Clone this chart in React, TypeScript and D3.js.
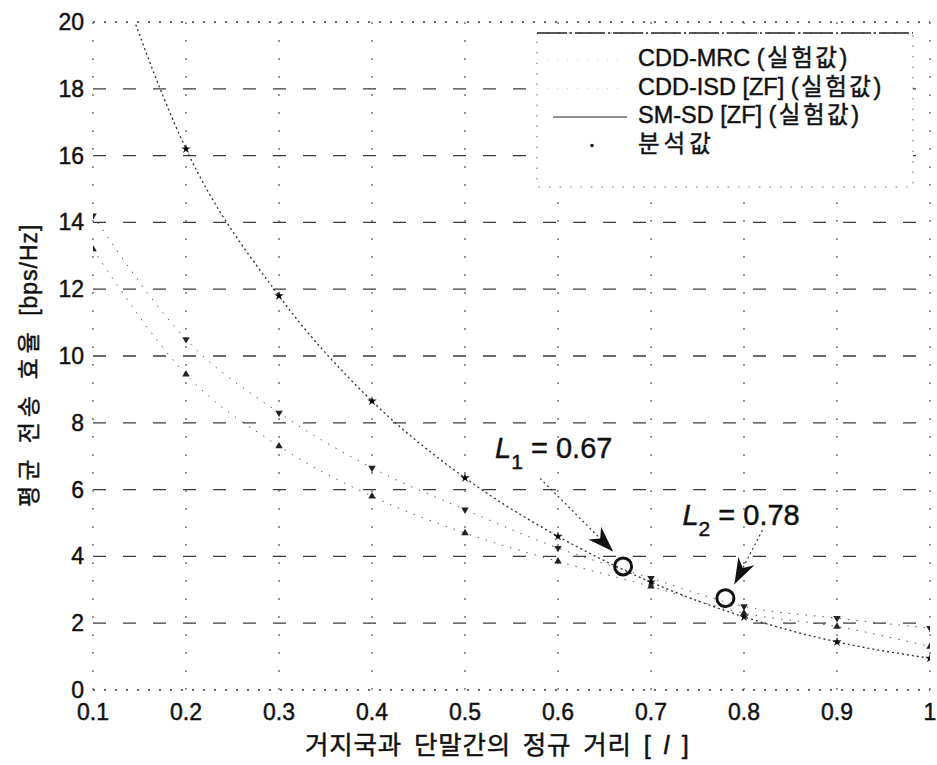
import React from "react";
import * as d3 from "d3";

// normalised distance between base station and terminal
const distances = [0.1, 0.2, 0.3, 0.4, 0.5, 0.6, 0.7, 0.8, 0.9, 1.0];
// average spectral efficiency [bps/Hz]
const smSdRate = [23.6, 16.2, 11.8, 8.65, 6.35, 4.6, 3.23, 2.19, 1.44, 0.95];
const cddIsdRate = [14.2, 10.5, 8.3, 6.65, 5.4, 4.25, 3.35, 2.5, 2.15, 1.85];
const cddMrcRate = [13.2, 9.45, 7.3, 5.8, 4.7, 3.85, 3.1, 2.3, 1.9, 1.3];

const yTicks = [0, 2, 4, 6, 8, 10, 12, 14, 16, 18, 20];
const xTicks = [0.1, 0.2, 0.3, 0.4, 0.5, 0.6, 0.7, 0.8, 0.9, 1.0];
const xTickLabels = ["0.1", "0.2", "0.3", "0.4", "0.5", "0.6", "0.7", "0.8", "0.9", "1"];

const legendNames = ["CDD-MRC", "CDD-ISD [ZF]", "SM-SD [ZF]", ""];
const legendKinds = ["(실험값)", "(실험값)", "(실험값)", "분석값"];

const switchIndex = ["1", "2"];
const switchDistance = [0.67, 0.78];
const switchRate = [3.7, 2.75];

const W = 937;
const H = 765;
const margin = { top: 22, right: 7, bottom: 75, left: 93 };
const latin = "'Liberation Sans', Arial, 'Noto Sans CJK KR', sans-serif";

export default function App() {
  const x = d3.scaleLinear().domain([0.1, 1]).range([margin.left, W - margin.right]);
  const y = d3.scaleLinear().domain([0, 20]).range([H - margin.bottom, margin.top]);

  const line = (vals: number[]) =>
    d3
      .line<number>()
      .x((_, i) => x(distances[i]))
      .y((d) => y(d))
      .curve(d3.curveMonotoneX)(vals) || "";

  const star = d3.symbol().type(d3.symbolStar).size(28)() || "";
  const tri = d3.symbol().type(d3.symbolTriangle).size(24)() || "";
  const dot = d3.symbol().type(d3.symbolCircle).size(10)() || "";

  const arrowHead = (x0: number, y0: number, x1: number, y1: number) => {
    const ang = Math.atan2(y1 - y0, x1 - x0);
    const len = 26;
    const wid = 9;
    const bx = x1 - len * Math.cos(ang);
    const by = y1 - len * Math.sin(ang);
    const nx = -Math.sin(ang) * wid;
    const ny = Math.cos(ang) * wid;
    const mx = x1 - len * 0.7 * Math.cos(ang);
    const my = y1 - len * 0.7 * Math.sin(ang);
    return `M${x1},${y1}L${bx + nx},${by + ny}L${mx},${my}L${bx - nx},${by - ny}Z`;
  };

  // label offsets relative to the marked points
  const labelOffsets = [
    { tx: -128, ty: -108, sx: -83, sy: -88, ex: -10, ey: -15 },
    { tx: -43, ty: -73, sx: 37, sy: -68, ex: 9, ey: -14 },
  ];

  const legendX = 537;
  const legendY = 33;
  const ink = { fill: "#111", stroke: "#111", strokeWidth: 0.45 };

  return (
    <div style={{ position: "absolute", left: 0, top: 0 }}>
      <svg width={W} height={H} style={{ display: "block", background: "#fff" }}>
        <defs>
          <clipPath id="plot">
            <rect x={margin.left} y={margin.top} width={W - margin.left - margin.right} height={H - margin.top - margin.bottom} />
          </clipPath>
        </defs>

        {/* grid */}
        {yTicks.map((t) => (
          <line key={"gy" + t} x1={margin.left} x2={W - margin.right} y1={y(t)} y2={y(t)}
            stroke="#3a3a3a" strokeWidth={1.3} strokeDasharray={t === 0 || t === 20 ? "2 9" : "13 17"} />
        ))}
        {xTicks.map((t) => (
          <line key={"gx" + t} x1={x(t)} x2={x(t)} y1={margin.top} y2={H - margin.bottom}
            stroke="#555" strokeWidth={1.2} strokeDasharray="2 16" />
        ))}

        {/* series */}
        <g clipPath="url(#plot)">
          <path d={line(cddMrcRate)} fill="none" stroke="#555" strokeWidth={1} strokeDasharray="1.5 7" />
          <path d={line(cddIsdRate)} fill="none" stroke="#555" strokeWidth={1} strokeDasharray="1.5 7" />
          <path d={line(smSdRate)} fill="none" stroke="#2a2a2a" strokeWidth={1.3} strokeDasharray="2 3" />
          {cddMrcRate.map((v, i) => (
            <path key={"m" + i} d={tri} transform={`translate(${x(distances[i])},${y(v)}) rotate(120)`} fill="#222" />
          ))}
          {cddIsdRate.map((v, i) => (
            <path key={"s" + i} d={tri} transform={`translate(${x(distances[i])},${y(v)}) rotate(60)`} fill="#222" />
          ))}
          {smSdRate.map((v, i) => (
            <path key={"a" + i} d={star} transform={`translate(${x(distances[i])},${y(v)})`} fill="#222" />
          ))}
          {smSdRate.map((v, i) => (
            <path key={"d" + i} d={dot} transform={`translate(${x(distances[i])},${y(v)})`} fill="#000" />
          ))}
        </g>

        {/* marked switching points */}
        {switchDistance.map((d, i) => {
          const cx = x(d);
          const cy = y(switchRate[i]);
          const o = labelOffsets[i];
          return (
            <g key={"sw" + i}>
              <circle cx={cx} cy={cy} r={8.5} fill="none" stroke="#111" strokeWidth={3} />
              <line x1={cx + o.sx} y1={cy + o.sy} x2={cx + o.ex} y2={cy + o.ey} stroke="#333" strokeWidth={1.2} strokeDasharray="2 3" />
              <path d={arrowHead(cx + o.sx, cy + o.sy, cx + o.ex, cy + o.ey)} fill="#111" />
              <text x={cx + o.tx} y={cy + o.ty} fontFamily={latin} fontSize={29} {...ink}>
                <tspan fontStyle="italic">L</tspan>
                <tspan fontSize={21} dy={11}>{switchIndex[i]}</tspan>
                <tspan dy={-11}>{" = " + switchDistance[i].toFixed(2)}</tspan>
              </text>
            </g>
          );
        })}

        {/* legend */}
        <rect x={legendX} y={legendY} width={376} height={154} fill="#fff" stroke="#666" strokeWidth={1} strokeDasharray="1.5 9" />
        <line x1={legendX} x2={legendX + 376} y1={legendY} y2={legendY} stroke="#222" strokeWidth={1.3} strokeDasharray="30 3 2 3" />
        {legendNames.map((name, i) => (
          <text key={"lg" + i} x={638} y={legendY + 27 + i * 28.5} dominantBaseline="middle"
            fontFamily={latin} fontSize={23.5} {...ink}>
            {name ? name + " " : ""}
            <tspan letterSpacing={name ? 2.5 : 4}>{legendKinds[i]}</tspan>
          </text>
        ))}
        <line x1={legendX} x2={legendX + 90} y1={legendY + 27} y2={legendY + 27} stroke="#ccc" strokeDasharray="1 9" />
        <line x1={legendX} x2={legendX + 90} y1={legendY + 55.5} y2={legendY + 55.5} stroke="#ccc" strokeDasharray="1 9" />
        <line x1={553} x2={627} y1={legendY + 84} y2={legendY + 84} stroke="#222" strokeWidth={1.2} />
        <path d={dot} transform={`translate(592,${legendY + 112.5})`} fill="#111" />

        {/* tick labels */}
        {yTicks.map((t) => (
          <text key={"ty" + t} x={margin.left - 9} y={y(t)} textAnchor="end" dominantBaseline="central"
            fontFamily={latin} fontSize={23} {...ink}>
            {t}
          </text>
        ))}
        {xTicks.map((t, i) => (
          <text key={"tx" + t} x={x(t)} y={H - margin.bottom + 22} textAnchor="middle" dominantBaseline="central"
            fontFamily={latin} fontSize={23} {...ink}>
            {xTickLabels[i]}
          </text>
        ))}

        {/* axis titles */}
        <text x={305} y={745} dominantBaseline="central" fontFamily={latin} fontSize={25.5}
          letterSpacing={0.8} wordSpacing={4} {...ink}>
          거지국과 단말간의 정규 거리 [ <tspan fontStyle="italic">l</tspan> ]
        </text>
        <text transform={`translate(29,${507}) rotate(-90)`} dominantBaseline="central"
          fontFamily={latin} fontSize={23} {...ink}>
          <tspan letterSpacing={5}>평균 전송 효율 </tspan>
          <tspan letterSpacing={1}>[bps/Hz]</tspan>
        </text>
      </svg>
    </div>
  );
}
